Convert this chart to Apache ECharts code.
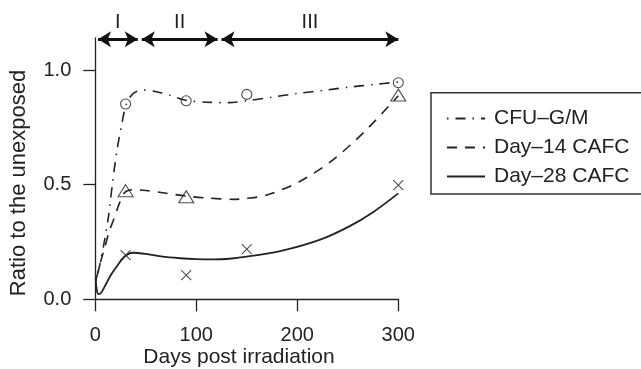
<!DOCTYPE html>
<html>
<head>
<meta charset="utf-8">
<script src="https://cdn.jsdelivr.net/npm/echarts@6/dist/echarts.min.js"></script>
<style>html,body{margin:0;padding:0;background:#fff}#c{width:641px;height:369px}</style>
</head>
<body>
<div id="c"></div>
<script>
// ---- data ----
var seriesNames = ['CFU\u2013G/M', 'Day\u201314 CAFC', 'Day\u201328 CAFC'];
var xTicks = [0, 100, 200, 300];
var yTicks = [0.0, 0.5, 1.0];

// measured points
var cfuPoints   = [[30, 0.852], [90, 0.866], [150, 0.894], [300, 0.945]];
var day14Points = [[30, 0.474], [90, 0.447], [300, 0.891]];
var day28Points = [[30, 0.193], [90, 0.105], [150, 0.219], [300, 0.498]];

// fitted curves
var cfuCurve = [[0.7, 0.08], [4, 0.142], [8, 0.229], [13, 0.36], [17, 0.506], [21, 0.637], [26, 0.76], [31, 0.855],
  [38, 0.9], [47, 0.913], [58, 0.908], [74, 0.89], [90, 0.868], [110, 0.86], [132, 0.858], [150, 0.866],
  [175, 0.882], [200, 0.898], [225, 0.911], [250, 0.925], [275, 0.937], [300, 0.948]];
var day14Curve = [[0.7, 0.085], [5, 0.16], [9.6, 0.23], [14, 0.3], [18, 0.346], [24.5, 0.426], [29.4, 0.468],
  [38, 0.478], [50, 0.475], [70, 0.463], [90, 0.45], [110, 0.442], [137, 0.436], [150, 0.44], [170, 0.455],
  [202, 0.513], [235, 0.607], [268, 0.738], [300, 0.888]];
var day28Curve = [[0.3, 0.09], [1.5, 0.04], [3, 0.023], [6, 0.03], [11, 0.07], [16, 0.11], [21, 0.142], [26, 0.172],
  [31, 0.193], [37, 0.203], [50, 0.198], [65, 0.187], [84, 0.179], [100, 0.175], [117, 0.174], [135, 0.178],
  [150, 0.186], [183, 0.21], [222, 0.259], [251, 0.317], [275, 0.38], [300, 0.462]];

// phase arrows
var phaseLabels = ['I', 'II', 'III'];
var phaseStart = [2.7, 46, 125];
var phaseEnd = [42, 121, 300];
var phaseY = 1.135;

// ---- chart ----
var ink = '#222';
var font = 'Liberation Sans, Arial, Helvetica, sans-serif';
var chart = echarts.init(document.getElementById('c'), null, {renderer: 'canvas'});

var arrowData = phaseLabels.map(function (l, i) {
  return [{coord: [phaseStart[i], phaseY], name: l}, {coord: [phaseEnd[i], phaseY]}];
});

var option = {
  backgroundColor: '#fff',
  animation: false,
  textStyle: {fontFamily: font, color: ink},
  grid: {left: 95.3, right: 242.7, top: 38, bottom: 69.7, containLabel: false},
  xAxis: {
    type: 'value', min: 0, max: 300, interval: 100,
    axisLine: {show: true, onZero: false, lineStyle: {color: ink, width: 1.3}},
    axisTick: {show: true, length: 12, lineStyle: {color: ink, width: 1.3}},
    axisLabel: {fontSize: 20, color: ink, margin: 26, fontFamily: font,
      formatter: function (v) { return xTicks.indexOf(v) >= 0 ? String(v) : ''; }},
    splitLine: {show: false}
  },
  yAxis: {
    type: 'value', min: 0, max: 1.14, interval: 0.5,
    axisLine: {show: true, onZero: false, lineStyle: {color: ink, width: 1.3}},
    axisTick: {show: true, length: 12, lineStyle: {color: ink, width: 1.3}},
    axisLabel: {fontSize: 20, color: ink, margin: 24, fontFamily: font, showMaxLabel: false,
      formatter: function (v) { return yTicks.indexOf(v) >= 0 ? v.toFixed(1) : ''; }},
    splitLine: {show: false}
  },
  legend: {
    orient: 'vertical', left: 441, top: 103, itemWidth: 38, itemHeight: 14, itemGap: 8,
    data: seriesNames,
    itemStyle: {opacity: 0},
    textStyle: {fontSize: 21, color: ink, fontFamily: font, padding: [0, 0, 0, 4]}
  },
  graphic: [
    {type: 'rect', shape: {x: 431, y: 92.7, width: 230, height: 101.3},
      style: {fill: 'none', stroke: '#333', lineWidth: 1.5}, silent: true, z: 0},
    {type: 'text', x: 239, y: 357, style: {text: 'Days post irradiation', fontSize: 21, fontFamily: font,
      fill: ink, textAlign: 'center', textVerticalAlign: 'middle'}},
    {type: 'text', x: 19, y: 183, rotation: Math.PI / 2, style: {text: 'Ratio to the unexposed', fontSize: 22,
      fontFamily: font, fill: ink, textAlign: 'center', textVerticalAlign: 'middle'}}
  ],
  series: [
    {name: seriesNames[0], type: 'line', data: cfuCurve, smooth: 0.3, symbol: 'none',
      lineStyle: {color: ink, width: 1.6, type: [1.5, 7, 10, 7]}, itemStyle: {color: ink}, z: 3,
      markLine: {silent: true, symbol: ['arrow', 'arrow'], symbolSize: [12, 13],
        lineStyle: {color: '#111', width: 3, type: 'solid'},
        label: {show: true, position: 'middle', formatter: '{b}', fontSize: 20, color: ink, fontFamily: font, distance: 7},
        data: arrowData}},
    {name: seriesNames[1], type: 'line', data: day14Curve, smooth: 0.3, symbol: 'none',
      lineStyle: {color: ink, width: 1.6, type: [10, 8]}, itemStyle: {color: ink}, z: 3},
    {name: seriesNames[2], type: 'line', data: day28Curve, smooth: 0.3, symbol: 'none',
      lineStyle: {color: ink, width: 1.8, type: 'solid'}, itemStyle: {color: ink}, z: 3},
    {name: 'cfuPts', type: 'scatter', data: cfuPoints, symbol: 'circle', symbolSize: 10,
      itemStyle: {color: 'rgba(0,0,0,0)', borderColor: ink, borderWidth: 1.1}, z: 4},
    {name: 'd14Pts', type: 'scatter', data: day14Points, symbol: 'triangle', symbolSize: [15, 12],
      itemStyle: {color: 'rgba(0,0,0,0)', borderColor: ink, borderWidth: 1.1}, z: 4},
    {name: 'd28Pts', type: 'scatter', data: day28Points, symbol: 'path://M0,0L10,10M10,0L0,10', symbolSize: 10,
      itemStyle: {color: 'rgba(0,0,0,0)', borderColor: ink, borderWidth: 1.1}, z: 4}
  ]
};
chart.setOption(option);
</script>
</body>
</html>
